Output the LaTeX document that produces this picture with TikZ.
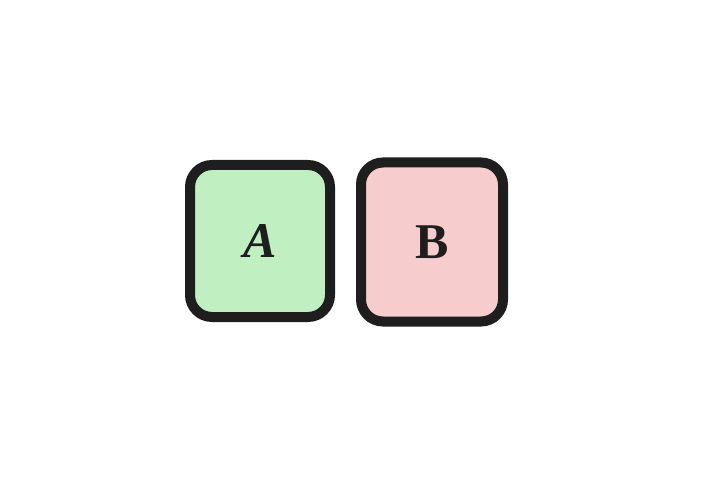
\documentclass[tikz,border=0pt]{standalone}
\usepackage{fontspec}
\setmainfont{Liberation Serif}
\definecolor{boxgreen}{RGB}{192,240,193}
\definecolor{boxpink}{RGB}{247,204,204}
\definecolor{ink}{RGB}{30,30,30}
\tikzset{
  card/.style={draw=ink, line width=10pt, rounded corners=22pt, inner sep=0pt,
    font=\fontsize{50}{54}\selectfont\bfseries, text=ink}
}
\begin{document}
\begin{tikzpicture}[x=1pt,y=-1pt]
\useasboundingbox (0,0) rectangle (710,500);
\node[card, fill=boxgreen, minimum width=140pt, minimum height=152pt] (A) at (260,241) {\itshape A};
\node[card, fill=boxpink, minimum width=142pt, minimum height=159pt] (B) at (432,242) {B};
\end{tikzpicture}
\end{document}
